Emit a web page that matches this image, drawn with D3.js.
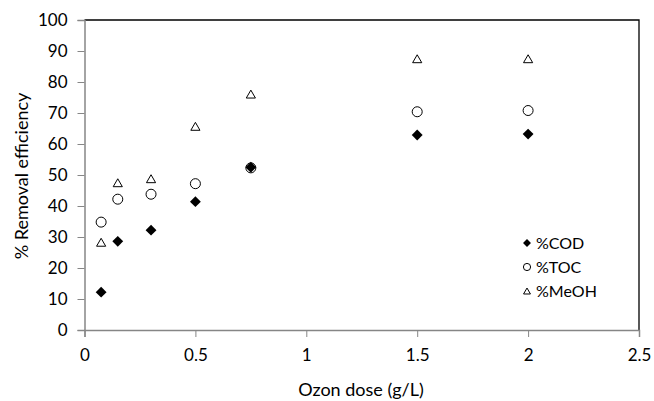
<!DOCTYPE html>
<html>
<head>
<meta charset="utf-8">
<script src="https://cdn.jsdelivr.net/npm/d3@7"></script>
<style>
  body { margin: 0; background: #fff; }
  text { font-family: Lato, "Open Sans", sans-serif; fill: #000; }
</style>
</head>
<body>
<div id="chart"></div>
<script>
// ozone dose (g/L)
var doses = [0.075, 0.15, 0.3, 0.5, 0.75, 1.5, 2.0];
// % removal for each series
var codValues = [12.2, 28.6, 32.2, 41.4, 52.5, 62.9, 63.2];
var tocValues = [34.8, 42.2, 43.8, 47.2, 52.3, 70.4, 70.8];
var meohValues = [28.2, 47.4, 48.7, 65.6, 76.0, 87.4, 87.4];
var seriesNames = ["%COD", "%TOC", "%MeOH"];
var xTicks = [0, 0.5, 1, 1.5, 2, 2.5];
var yTicks = [0, 10, 20, 30, 40, 50, 60, 70, 80, 90, 100];

var width = 654, height = 401,
    margin = { left: 84.5, right: 15, top: 20, bottom: 71 };

var svg = d3.select("#chart").append("svg")
    .attr("width", width).attr("height", height);

var x = d3.scaleLinear().domain([0, 2.5]).range([margin.left, width - margin.right]);
var y = d3.scaleLinear().domain([0, 100]).range([height - margin.bottom, margin.top]);

// dark frame on top and right
svg.append("path")
    .attr("d", "M" + x(0) + "," + y(100) + "H" + x(2.5) + "V" + y(0))
    .attr("fill", "none").attr("stroke", "#000").attr("stroke-width", 1.3);

// axes
var xAxis = svg.append("g")
    .attr("transform", "translate(0," + y(0) + ")")
    .call(d3.axisBottom(x).tickValues(xTicks).tickSize(7).tickPadding(12)
        .tickFormat(function (d) { return d; }));
var yAxis = svg.append("g")
    .attr("transform", "translate(" + x(0) + ",0)")
    .call(d3.axisLeft(y).tickValues(yTicks).tickSize(7).tickPadding(10));

[xAxis, yAxis].forEach(function (g) {
    g.select(".domain").attr("stroke", "#868686").attr("stroke-width", 1.5);
    g.selectAll(".tick line").attr("stroke", "#868686");
    g.selectAll(".tick text").style("font-size", "17px").style("font-family", "Lato, sans-serif");
});

// axis titles
svg.append("text")
    .attr("x", 361).attr("y", 396)
    .attr("text-anchor", "middle").style("font-size", "18px")
    .text("Ozon dose (g/L)");
svg.append("text")
    .attr("transform", "translate(22,176) rotate(-90)")
    .attr("dy", "0.35em")
    .attr("text-anchor", "middle").style("font-size", "18px")
    .text("% Removal efficiency");

var diamond = d3.symbol().type(d3.symbolDiamond2);
var triangle = d3.symbol().type(d3.symbolTriangle2);

function rows(vals) {
    return doses.map(function (d, i) { return { x: d, y: vals[i] }; });
}

// triangles (MeOH)
svg.append("g").selectAll("path")
    .data(rows(meohValues)).enter().append("path")
    .attr("d", triangle.size(60)())
    .attr("transform", function (d) { return "translate(" + x(d.x) + "," + (y(d.y) + 1) + ")"; })
    .attr("fill", "#fff").attr("stroke", "#000").attr("stroke-width", 1);

// circles (TOC)
svg.append("g").selectAll("circle")
    .data(rows(tocValues)).enter().append("circle")
    .attr("cx", function (d) { return x(d.x); })
    .attr("cy", function (d) { return y(d.y); })
    .attr("r", 5)
    .attr("fill", "#fff").attr("stroke", "#000").attr("stroke-width", 1);

// diamonds (COD)
svg.append("g").selectAll("path")
    .data(rows(codValues)).enter().append("path")
    .attr("d", diamond.size(75)())
    .attr("transform", function (d) { return "translate(" + x(d.x) + "," + y(d.y) + ")"; })
    .attr("fill", "#000");

// legend
var legend = svg.append("g").attr("transform", "translate(527,243)");
seriesNames.forEach(function (name, i) {
    var row = legend.append("g").attr("transform", "translate(0," + (i * 24) + ")");
    if (i === 0) {
        row.append("path").attr("d", diamond.size(40)()).attr("fill", "#000");
    } else if (i === 1) {
        row.append("circle").attr("r", 3.6).attr("fill", "#fff").attr("stroke", "#000");
    } else {
        row.append("path").attr("d", triangle.size(34)()).attr("transform", "translate(0,1)")
            .attr("fill", "#fff").attr("stroke", "#000");
    }
    row.append("text").attr("x", 9).attr("dy", "0.35em")
        .style("font-size", "16px").text(name);
});
</script>
</body>
</html>
